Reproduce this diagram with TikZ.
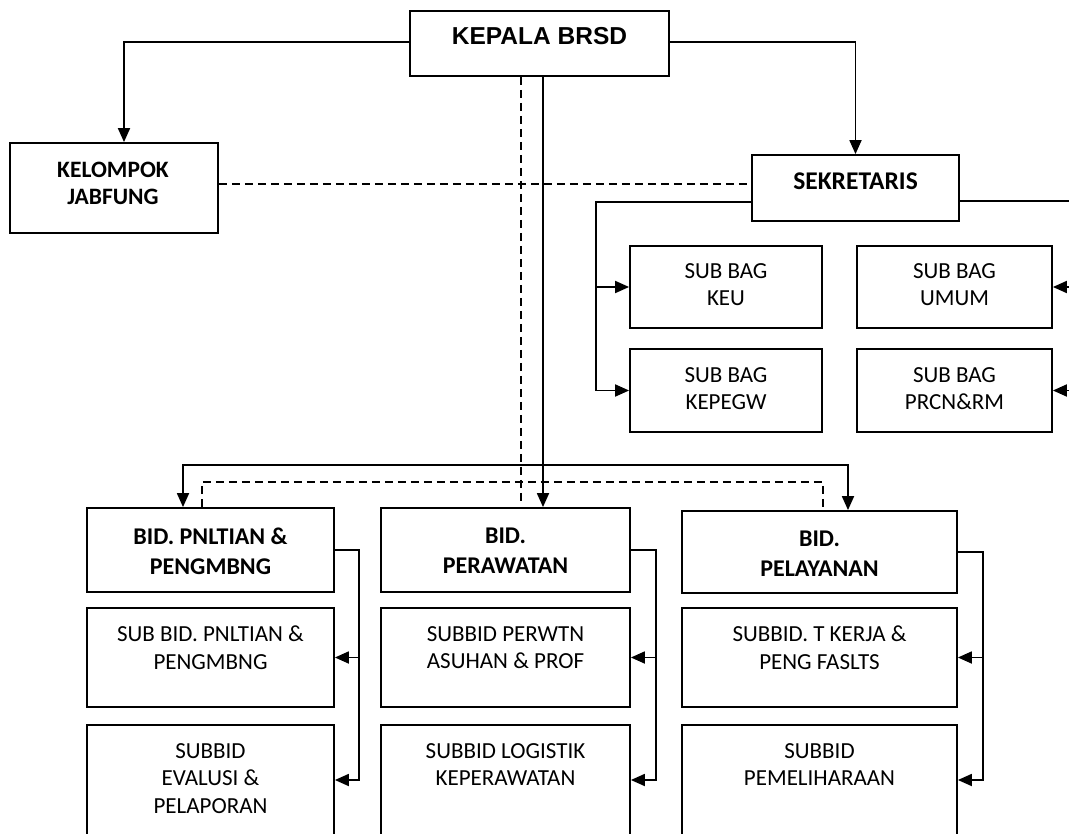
\documentclass[tikz,border=0pt]{standalone}
\usepackage{fontspec}
\setmainfont{Carlito}
\newfontfamily\arialf{Liberation Sans}
\usetikzlibrary{arrows.meta,calc}
\tikzset{
  box/.style={draw, line width=1.8pt, inner sep=0pt, rectangle},
  lighttxt/.style={anchor=north, align=center, inner sep=0pt, font=\fontsize{23}{27.5}\selectfont},
  boldtxt/.style={anchor=north, align=center, inner sep=0pt, font=\fontsize{24}{29.5}\selectfont\bfseries},
  conn/.style={line width=1.8pt},
  arr/.style={conn, -{Triangle[length=14pt,width=12pt]}},
  dsh/.style={line width=1.5pt, dash pattern=on 8pt off 5pt}
}
\begin{document}
\begin{tikzpicture}[x=1pt,y=-1pt]
\useasboundingbox (0,0) rectangle (1069,834);
\fill[white] (0,0) rectangle (1069,834);
\clip (0,0) rectangle (1069,834);
% boxes
\node[box, minimum width=259pt, minimum height=65pt] (kepala) at (539.5,43.5) {};
\node[box, minimum width=208pt, minimum height=90pt] (kelompok) at (114,188) {};
\node[box, minimum width=207pt, minimum height=66pt] (sekr) at (855.5,188) {};
\node[box, minimum width=192pt, minimum height=82pt] (keu) at (726,287) {};
\node[box, minimum width=192pt, minimum height=83pt] (kepegw) at (726,390.5) {};
\node[box, minimum width=195pt, minimum height=82pt] (umum) at (954.5,287) {};
\node[box, minimum width=195pt, minimum height=83pt] (prcn) at (954.5,390.5) {};
\node[box, minimum width=247pt, minimum height=84pt] (pnl) at (210.5,550) {};
\node[box, minimum width=249pt, minimum height=84pt] (pera) at (505.5,550) {};
\node[box, minimum width=275pt, minimum height=82pt] (pel) at (819.5,552) {};
\node[box, minimum width=247pt, minimum height=99pt] (sb11) at (210.5,657.5) {};
\node[box, minimum width=249pt, minimum height=99pt] (sb21) at (505.5,657.5) {};
\node[box, minimum width=275pt, minimum height=99pt] (sb31) at (819.5,657.5) {};
\node[box, minimum width=247pt, minimum height=135pt] (sb12) at (210.5,792.5) {};
\node[box, minimum width=249pt, minimum height=135pt] (sb22) at (505.5,792.5) {};
\node[box, minimum width=275pt, minimum height=135pt] (sb32) at (819.5,792.5) {};
% texts
\node[anchor=north, inner sep=0pt, font=\arialf\fontsize{24.5}{29}\selectfont\bfseries] (tkepala) at (539.5,27) {KEPALA BRSD};
\node[boldtxt, font=\fontsize{23.5}{26.5}\selectfont\bfseries] (tkel) at (113,162) {KELOMPOK\\JABFUNG};
\node[boldtxt, font=\fontsize{25.5}{30}\selectfont\bfseries] (tsekr) at (855.5,173) {SEKRETARIS};
\node[lighttxt] (tkeu) at (726,263) {SUB BAG\\KEU};
\node[lighttxt] (tkepegw) at (726,367) {SUB BAG\\KEPEGW};
\node[lighttxt] (tumum) at (954.5,263) {SUB BAG\\UMUM};
\node[lighttxt] (tprcn) at (954.5,367) {SUB BAG\\PRCN\&RM};
\node[boldtxt] (tpnl) at (210.5,528) {BID. PNLTIAN \&\\PENGMBNG};
\node[boldtxt] (tpera) at (505.5,528) {BID.\\PERAWATAN};
\node[boldtxt] (tpel) at (819.5,531) {BID.\\PELAYANAN};
\node[lighttxt] (tsb11) at (210.5,626) {SUB BID. PNLTIAN \&\\PENGMBNG};
\node[lighttxt] (tsb21) at (505.5,626) {SUBBID PERWTN\\ASUHAN \& PROF};
\node[lighttxt] (tsb31) at (819.5,626) {SUBBID. T KERJA \&\\PENG FASLTS};
\node[lighttxt] (tsb12) at (210.5,743) {SUBBID\\EVALUSI \&\\PELAPORAN};
\node[lighttxt] (tsb22) at (505.5,743) {SUBBID LOGISTIK\\KEPERAWATAN};
\node[lighttxt] (tsb32) at (819.5,743) {SUBBID\\PEMELIHARAAN};
% top connectors
\draw[arr] (kepala.west |- 0,42) -| ([xshift=10pt]kelompok.north);
\draw[arr] (kepala.east |- 0,42) -| (sekr.north);
\draw[dsh] (kelompok.east |- 0,184) -- (sekr.west |- 0,184);
% sekretaris left
\coordinate (sl) at (596,202);
\draw[arr] (sekr.west |- sl) -- (sl) |- (kepegw.west);
\draw[arr] (sl |- keu.west) -- (keu.west);
% sekretaris right
\coordinate (sr) at (1090,201);
\draw[arr] (sekr.east |- sr) -- (sr) |- (prcn.east);
\draw[arr] (sr |- umum.east) -- (umum.east);
% main vertical
\coordinate (c1) at (543,465);
\draw[arr] (kepala.south -| c1) -- (pera.north -| c1);
\draw[arr] (c1) -| (pnl.north -| 183,0);
\draw[arr] (c1) -| (pel.north -| 848,0);
% dashed
\draw[dsh] (kepala.south -| 521,0) -- (521,505);
\draw[dsh] (pnl.north -| 202,0) -- (202,482) -- (823,482) -- (pel.north -| 823,0);
% bidang sub connectors
\coordinate (r1) at (359,550);
\coordinate (r2) at (656,550);
\coordinate (r3) at (983,552);
\draw[arr] (pnl.east |- r1) -- (r1) |- (sb12.east |- 0,780);
\draw[arr] (r1 |- sb11.east) -- (sb11.east);
\draw[arr] (pera.east |- r2) -- (r2) |- (sb22.east |- 0,780);
\draw[arr] (r2 |- sb21.east) -- (sb21.east);
\draw[arr] (pel.east |- r3) -- (r3) |- (sb32.east |- 0,780);
\draw[arr] (r3 |- sb31.east) -- (sb31.east);
\end{tikzpicture}
\end{document}
